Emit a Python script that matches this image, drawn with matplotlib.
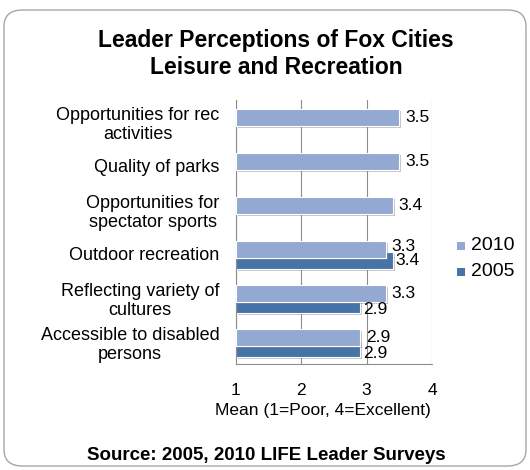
import matplotlib.pyplot as plt
import matplotlib.patheffects as pe
from matplotlib.patches import FancyBboxPatch
import numpy as np

plt.rcParams['font.family'] = ['Liberation Sans', 'DejaVu Sans']

# data
categories = [
    "Opportunities for rec\nactivities",
    "Quality of parks",
    "Opportunities for\nspectator sports",
    "Outdoor recreation",
    "Reflecting variety of\ncultures",
    "Accessible to disabled\npersons",
]
values_2010 = [3.5, 3.5, 3.4, 3.3, 3.3, 2.9]
values_2005 = [None, None, None, 3.4, 2.9, 2.9]
series_names = ["2010", "2005"]
xticks = [1, 2, 3, 4]

c2010 = '#94A9D2'
c2005 = '#4673A8'
grid_c = '#8C8C8C'

fig = plt.figure(figsize=(5.3, 4.7), dpi=100)

# rounded outer frame
frame = FancyBboxPatch((4 / 530, 4 / 470), 522 / 530, 456 / 470,
                       boxstyle='round,pad=0,rounding_size=0.035',
                       transform=fig.transFigure, facecolor='white',
                       edgecolor='#A6A6A6', linewidth=1.0, zorder=-10)
fig.patches.append(frame)

ax = fig.add_axes([236 / 530, 1 - 364 / 470, 196 / 530, 264 / 470])
ax.set_facecolor('none')

y = np.arange(len(categories))
h = 0.39
shadow = [pe.SimplePatchShadow(offset=(1.5, -1.5), shadow_rgbFace='#7F7F7F', alpha=0.45), pe.Normal()]

# 2005 bars drawn first (behind), only where present
idx05 = [i for i, v in enumerate(values_2005) if v is not None]
v05 = [values_2005[i] for i in idx05]
b05 = ax.barh(y[idx05] + 0.14, np.array(v05) - 1, left=1, height=h, color=c2005,
              edgecolor='white', linewidth=0.8, zorder=2)
b10 = ax.barh(y - 0.1, np.array(values_2010) - 1, left=1, height=h, color=c2010,
              edgecolor='white', linewidth=0.8, zorder=3)
for b in list(b05) + list(b10):
    b.set_path_effects(shadow)

# value labels
for i, v in enumerate(values_2010):
    dy = -0.07 if i == 3 else 0
    ax.annotate(f"{v:.1f}", (v, y[i] - 0.1 + dy), xytext=(4, 0), textcoords='offset points',
                va='center', ha='left', fontsize=12.5, zorder=5)
for i, v in zip(idx05, v05):
    dy = 0.0 if i == 3 else 0.12
    ax.annotate(f"{v:.1f}", (v, y[i] + 0.14 + dy), xytext=(2, 0), textcoords='offset points',
                va='center', ha='left', fontsize=12.5, zorder=5)

ax.set_xlim(1, 4)
ax.set_ylim(len(categories) - 0.5, -0.5)
ax.set_xticks(xticks)
ax.set_xticklabels([str(t) for t in xticks], fontsize=12.5)
ax.set_yticks(y)
ax.set_yticklabels(categories, fontsize=13, ha='right', multialignment='center',
                   linespacing=1.15)
ax.tick_params(axis='x', length=0, pad=14)
ax.tick_params(axis='y', length=0, pad=12)
ax.xaxis.grid(True, color=grid_c, linewidth=0.8)
ax.set_axisbelow(True)
for s in ['top', 'right']:
    ax.spines[s].set_visible(False)
for s in ['left', 'bottom']:
    ax.spines[s].set_color(grid_c)
    ax.spines[s].set_linewidth(0.8)

fig.text(323 / 530, 1 - 410 / 470, "Mean (1=Poor, 4=Excellent)", ha='center', va='center', fontsize=12.5)

# title
fig.text(276 / 530, 1 - 54 / 470, "Leader Perceptions of Fox Cities\nLeisure and Recreation",
         ha='center', va='center', fontsize=16.5, fontweight='bold', linespacing=1.2)

# legend
for k, (name, col) in enumerate(zip(series_names, [c2010, c2005])):
    yy = 1 - (246 + 26 * k) / 470
    fig.patches.append(plt.Rectangle((457 / 530, yy - 4 / 470), 8 / 530, 8 / 470,
                                     transform=fig.transFigure, facecolor=col, edgecolor='none'))
    fig.text(471 / 530, yy, name, ha='left', va='center', fontsize=14)

fig.text(266 / 530, 1 - 455 / 470, "Source: 2005, 2010 LIFE Leader Surveys",
         ha='center', va='center', fontsize=13.5, fontweight='bold')

fig.savefig('out.png', dpi=100)
